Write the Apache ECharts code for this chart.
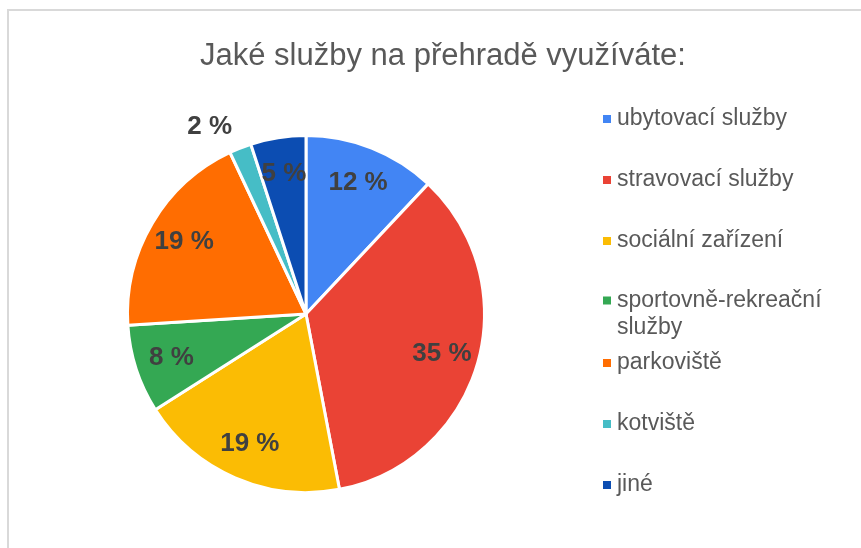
<!DOCTYPE html>
<html>
<head>
<meta charset="utf-8">
<script src="https://cdn.jsdelivr.net/npm/echarts@6/dist/echarts.min.js"></script>
<style>
  html, body { margin: 0; padding: 0; background: #fff; }
  #chart { width: 861px; height: 548px; }
</style>
</head>
<body>
<div id="chart"></div>
<script>
  // kategorie a podíly (%)
  const categories = ['ubytovací služby', 'stravovací služby', 'sociální zařízení',
    'sportovně-rekreační služby', 'parkoviště', 'kotviště', 'jiné'];
  const shares = [12, 35, 19, 8, 19, 2, 5];
  const colors = ['#4285F4', '#EA4335', '#FBBC04', '#34A853', '#FF6D01', '#46BDC6', '#0C4DB2'];
  // popisky mimo výseč (jen kotviště)
  const outsideLabel = [false, false, false, false, false, true, false];

  const chart = echarts.init(document.getElementById('chart'));

  const center = [306, 314];
  const R = 178.5;

  const pieData = categories.map((name, i) => ({ name: name, value: shares[i] }));
  const labelData = categories.map((name, i) => {
    const item = { name: name, value: shares[i] };
    if (outsideLabel[i]) {
      item.label = { position: 'outside' };
      item.labelLine = { show: false, length: 24, length2: 0 };
    }
    return item;
  });

  const legendText = { fontFamily: 'Liberation Sans, Arial, sans-serif', fontSize: 23, color: '#595959', lineHeight: 27 };
  const legendBase = {
    orient: 'vertical', left: 601, padding: 0, itemWidth: 10, itemHeight: 10,
    itemGap: 34, icon: 'rect', textStyle: legendText, selectedMode: false
  };

  chart.setOption({
    color: colors,
    title: {
      text: 'Jaké služby na přehradě využíváte:',
      left: 195,
      top: 36,
      textStyle: { fontFamily: 'Liberation Sans, Arial, sans-serif', fontSize: 31, fontWeight: 'normal', color: '#595959' }
    },
    legend: [
      Object.assign({}, legendBase, { top: 105.5, data: categories.slice(0, 3) }),
      // dvouřádková položka: prázdný první řádek, aby značka seděla u prvního řádku textu
      Object.assign({}, legendBase, {
        top: 260,
        data: [categories[3]],
        formatter: name => ' \n' + name.replace(' ', '\n')
      }),
      Object.assign({}, legendBase, { top: 349.5, data: categories.slice(4) })
    ],
    graphic: [{
      type: 'rect', silent: true,
      shape: { x: 8, y: 10, width: 900, height: 600 },
      style: { fill: 'none', stroke: '#d9d9d9', lineWidth: 2 }
    }],
    series: [
      {
        name: 'služby',
        type: 'pie',
        center: center,
        radius: [0, R],
        startAngle: 90,
        clockwise: true,
        avoidLabelOverlap: false,
        label: { show: false },
        labelLine: { show: false },
        itemStyle: { borderColor: '#fff', borderWidth: 3 },
        emphasis: { disabled: true },
        data: pieData
      },
      {
        // jen popisky hodnot, umístěné dál od středu
        name: 'popisky',
        type: 'pie',
        center: center,
        radius: [R * 0.56, R - 1.5],
        startAngle: 90,
        clockwise: true,
        silent: true,
        avoidLabelOverlap: false,
        itemStyle: { color: 'rgba(0,0,0,0)' },
        emphasis: { disabled: true },
        label: {
          show: true,
          position: 'inside',
          formatter: '{c} %',
          fontFamily: 'Liberation Sans, Arial, sans-serif',
          fontSize: 26,
          fontWeight: 'bold',
          color: '#404040',
          distanceToLabelLine: 0
        },
        labelLine: { show: false },
        data: labelData
      }
    ]
  });
</script>
</body>
</html>
